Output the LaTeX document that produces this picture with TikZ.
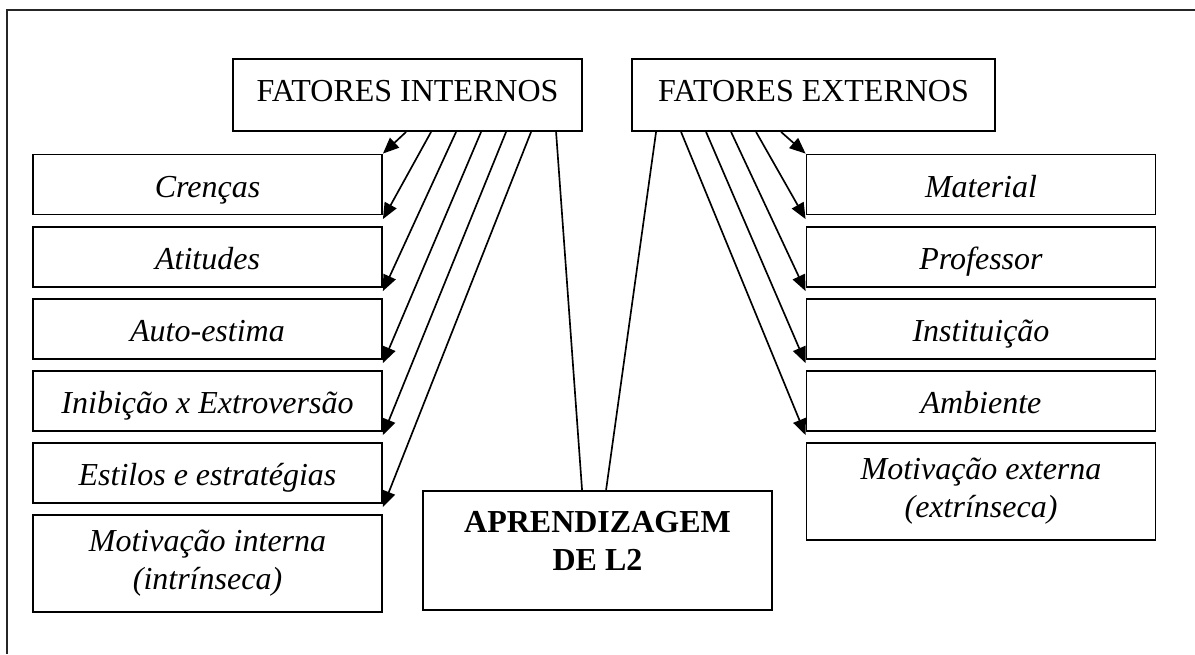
\documentclass[tikz,border=0pt]{standalone}
\usepackage{fontspec}
\setmainfont{Liberation Serif}
\usetikzlibrary{arrows.meta,calc}
\begin{document}
\begin{tikzpicture}[x=0.75pt,y=-0.75pt,
  box/.style={draw,line width=1.4pt,rectangle,inner sep=0pt,align=center,
    font=\fontsize{24}{28.5}\selectfont},
  item/.style={box,minimum width=261.75pt,minimum height=45pt,text height=21pt,text depth=2pt,
    font=\fontsize{24}{28.5}\selectfont\itshape},
  tallitem/.style={box,minimum width=261.75pt,minimum height=72.75pt,
    font=\fontsize{24}{28.5}\selectfont\itshape},
  head/.style={box,minimum height=54pt,text height=16pt,text depth=7pt},
  conn/.style={line width=1.25pt},
  arr/.style={conn,-{Triangle[length=12pt,width=10pt]}}]
\useasboundingbox (0,0) rectangle (1195,654);
\coordinate (frTR) at (1195,10);
\coordinate (frTL) at (7,10);
\coordinate (frBL) at (7,654);
\draw[line width=1.6pt,black!85] (frTR) -- (frTL) -- (frBL);

% headers
\node[head,minimum width=261.75pt] (fi) at (407.5,95) {FATORES INTERNOS};
\node[head,minimum width=272.25pt] (fe) at (813.5,95) {FATORES EXTERNOS};

% left items
\node[item] (l1) at (207.5,184.5) {Crenças};
\node[item] (l2) at (207.5,257) {Atitudes};
\node[item] (l3) at (207.5,329) {Auto-estima};
\node[item] (l4) at (207.5,401) {Inibição x Extroversão};
\node[item] (l5) at (207.5,473) {Estilos e estratégias};
\node[tallitem] (l6) at (207.5,563.5) {Motivação interna\\(intrínseca)};

% right items
\node[item] (r1) at (981,184.5) {Material};
\node[item] (r2) at (981,257) {Professor};
\node[item] (r3) at (981,329) {Instituição};
\node[item] (r4) at (981,401) {Ambiente};
\node[tallitem] (r5) at (981,491.5) {Motivação externa\\(extrínseca)};

% central box
\node[box,minimum width=261.75pt,minimum height=89.25pt] (apr) at (597.5,550.5) {};
\node[font=\fontsize{24}{28.5}\selectfont\bfseries,align=center,inner sep=0pt] (aprtext) at (597.5,541) {APRENDIZAGEM\\DE L2};

% left connectors
\draw[arr] ($(fi.south west)+(174,0)$) -- (l1.north east);
\draw[arr] ($(fi.south west)+(199,0)$) -- ($(l2.north east)+(0,-7)$);
\draw[arr] ($(fi.south west)+(224,0)$) -- ($(l3.north east)+(0,-7)$);
\draw[arr] ($(fi.south west)+(249,0)$) -- ($(l4.north east)+(0,-7)$);
\draw[arr] ($(fi.south west)+(274,0)$) -- ($(l5.north east)+(0,-7)$);
\draw[arr] ($(fi.south west)+(299,0)$) -- ($(l6.north east)+(0,-7)$);
\draw[conn] ($(fi.south west)+(324,0)$) -- ($(apr.north west)+(160,0)$);

% right connectors
\draw[conn] ($(fe.south west)+(25,0)$) -- ($(apr.north west)+(184,0)$);
\draw[arr] ($(fe.south west)+(150,0)$) -- (r1.north west);
\draw[arr] ($(fe.south west)+(125,0)$) -- ($(r2.north west)+(0,-7)$);
\draw[arr] ($(fe.south west)+(100,0)$) -- ($(r3.north west)+(0,-7)$);
\draw[arr] ($(fe.south west)+(75,0)$) -- ($(r4.north west)+(0,-7)$);
\draw[arr] ($(fe.south west)+(50,0)$) -- ($(r5.north west)+(0,-7)$);
\end{tikzpicture}
\end{document}
